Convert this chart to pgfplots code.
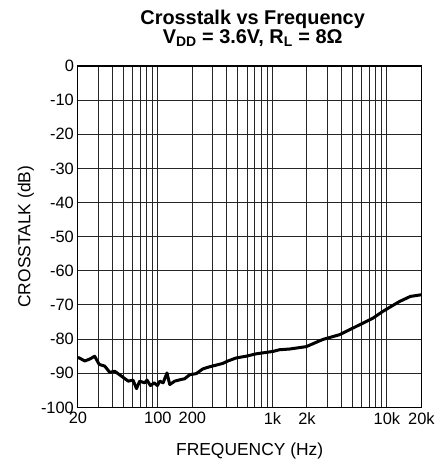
\documentclass[border=0pt]{standalone}
\usepackage{fontspec}
\setmainfont{Liberation Sans}
\usepackage{pgfplots}
\pgfplotsset{compat=1.18}

\begin{document}
\begin{tikzpicture}
\begin{axis}[
    scale only axis,
    width=344bp, height=342bp,
    xmode=log,
    xmin=20, xmax=20000,
    ymin=-100, ymax=0,
    xtick={20,30,40,50,60,70,80,90,100,200,300,400,500,600,700,800,900,1000,2000,3000,4000,5000,6000,7000,8000,9000,10000,20000},
    xticklabels={20,,,,,,,,100,200,,,,,,,,1k,2k,,,,,,,,10k,20k},
    ytick={-100,-90,-80,-70,-60,-50,-40,-30,-20,-10,0},
    yticklabels={-100,-90,-80,-70,-60,-50,-40,-30,-20,-10,0},
    grid=major,
    major grid style={black!85, line width=1bp},
    axis line style={black, line width=1.2bp},
    major tick length=0pt,
    minor tick length=0pt,
    tick label style={font=\fontsize{16.5}{16.5}\selectfont},
    xticklabel style={yshift=-1.5bp},
    yticklabel style={xshift=-0.5bp},
    clip=false,
]
\addplot[black, line width=3bp, line join=round] coordinates {
    (20,-85.3)(23,-86.4)(25.5,-85.8)(28,-85.0)(30.7,-87.4)(34.3,-87.9)
    (37.9,-89.7)(41.9,-89.4)(47.9,-90.8)(55,-92.3)(60.6,-92.0)(65,-94.5)
    (69.3,-92.3)(76.5,-92.8)(80.3,-92.0)(86,-93.6)(92.8,-92.8)(98.9,-93.6)
    (103.7,-92.3)(111,-92.8)(119.9,-89.9)(126.8,-93.3)(140,-92.3)(160,-91.8)
    (171,-91.6)(189.5,-90.4)(216,-90.1)(247,-88.7)(282,-88.1)(323,-87.6)
    (369,-87.1)(408,-86.4)(483,-85.5)(589,-85.0)(722,-84.3)(1010,-83.6)
    (1154,-83.1)(1410,-82.9)(1972,-82.2)(2750,-80.1)(3850,-78.7)(5380,-76.3)
    (7510,-73.9)(9180,-71.9)(12830,-69.0)(16000,-67.5)(20000,-67.0)
};
\coordinate (bl) at (rel axis cs:0,0);
\coordinate (tr) at (rel axis cs:1,1);
\coordinate (ml) at (rel axis cs:0,0.5);
\coordinate (mb) at (rel axis cs:0.5,0);
\coordinate (mt) at (rel axis cs:0.5,1);
\end{axis}
\node[rotate=90, anchor=base, font=\fontsize{17.5}{17.5}\selectfont] at ([xshift=-47.5bp]ml) {CROSSTALK (dB)};
\node[anchor=base, font=\fontsize{17.5}{17.5}\selectfont] at ([yshift=-47.7bp]mb) {FREQUENCY (Hz)};
\node[anchor=base, font=\bfseries\fontsize{20}{20}\selectfont] at ([shift={(3bp,41bp)}]mt) {Crosstalk vs Frequency};
\node[anchor=base, font=\bfseries\fontsize{20}{20}\selectfont] at ([shift={(3bp,22.7bp)}]mt) {V\textsubscript{DD} = 3.6V, R\textsubscript{L} = 8Ω};
\path ([shift={(-78bp,-54bp)}]bl) rectangle ([shift={(18bp,66bp)}]tr);
\end{tikzpicture}
\end{document}
